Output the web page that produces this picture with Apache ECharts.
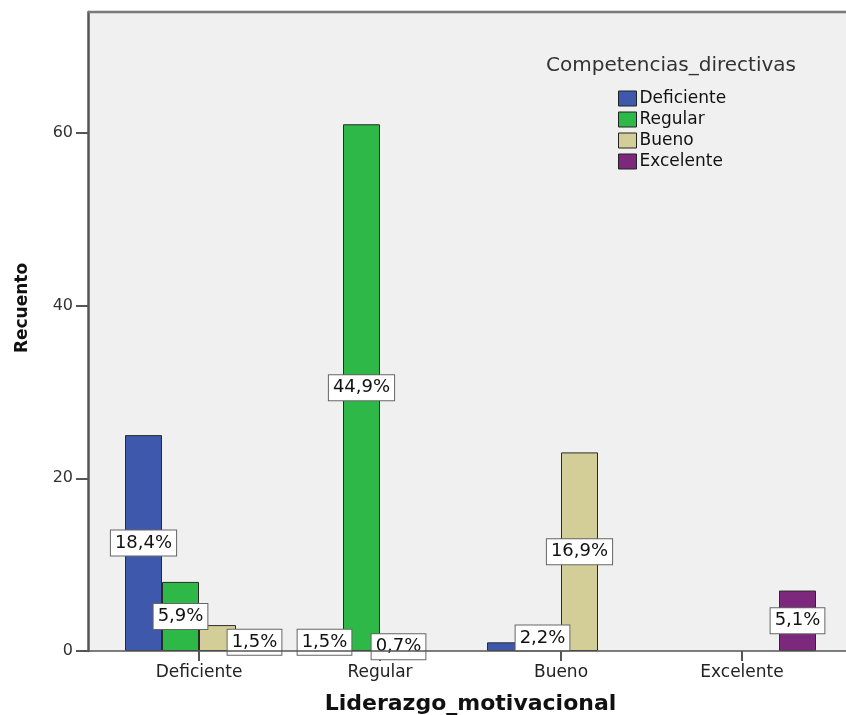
<!DOCTYPE html>
<html>
<head>
<meta charset="utf-8">
<script src="https://cdn.jsdelivr.net/npm/echarts@6/dist/echarts.min.js"></script>
<style>
  html, body { margin: 0; padding: 0; background: #ffffff; }
  #chart { width: 846px; height: 715px; }
</style>
</head>
<body>
<div id="chart"></div>
<script>
// Liderazgo_motivacional (x) by Competencias_directivas (series), counts
const categories = ['Deficiente', 'Regular', 'Bueno', 'Excelente'];
const seriesNames = ['Deficiente', 'Regular', 'Bueno', 'Excelente'];
const deficiente = [25, 2, 1, 0];
const regular = [8, 61, 3, 0];
const bueno = [3, 1, 23, 0];
const excelente = [2, 0, 0, 7];
const yTicks = [0, 20, 40, 60];
// [series index, category index] of bars whose percentage is not printed
const unlabeled = [[2, 0], [0, 2]];

const counts = [deficiente, regular, bueno, excelente];
const colors = ['#3e58ac', '#2eb848', '#d3ce97', '#7c287d'];
const total = counts.flat().reduce((a, b) => a + b, 0);

const FONT = '"DejaVu Sans", "Noto Sans", sans-serif';

function pct(v) {
  return (v / total * 100).toFixed(1).replace('.', ',') + '%';
}

const series = counts.map((vals, si) => ({
  name: seriesNames[si],
  type: 'bar',
  xAxisIndex: 0,
  yAxisIndex: 0,
  barWidth: 37,
  barGap: '0%',
  itemStyle: { color: colors[si], borderColor: '#2a2a2a', borderWidth: 1 },
  emphasis: { disabled: true },
  data: vals.map((v, ci) => {
    const hide = v === 0 || unlabeled.some(([s, c]) => s === si && c === ci);
    const item = { value: v, label: { show: !hide } };
    if (v === 0) item.itemStyle = { borderWidth: 0 };
    return item;
  }),
  label: {
    position: 'inside',
    formatter: p => pct(p.value),
    fontFamily: FONT,
    fontSize: 18,
    lineHeight: 20,
    color: '#111',
    backgroundColor: '#ffffff',
    borderColor: '#666666',
    borderWidth: 1,
    padding: [3, 4, 2, 4]
  }
}));

const chart = echarts.init(document.getElementById('chart'), null, { renderer: 'canvas' });
chart.setOption({
  animation: false,
  backgroundColor: '#ffffff',
  title: {
    text: 'Competencias_directivas',
    left: 541,
    top: 51,
    textStyle: { fontFamily: FONT, fontSize: 20, fontWeight: 'normal', color: '#333' }
  },
  legend: {
    data: seriesNames,
    orient: 'vertical',
    left: 613,
    top: 85,
    icon: 'rect',
    itemWidth: 18,
    itemHeight: 15,
    itemGap: 4,
    selectedMode: false,
    itemStyle: { borderColor: '#222', borderWidth: 1 },
    textStyle: { fontFamily: FONT, fontSize: 17, lineHeight: 15, color: '#111', padding: [0, 0, 0, -2] }
  },
  grid: [
    { left: 108.5, right: 13.5, top: 12, bottom: 64, containLabel: false, outerBoundsMode: 'none' },
    { left: 88, right: 0, top: 12, bottom: 64, show: true, backgroundColor: '#f0f0f0', borderWidth: 0, z: 0, outerBoundsMode: 'none' }
  ],
  xAxis: [
    {
      type: 'category',
      gridIndex: 0,
      data: categories,
      name: 'Liderazgo_motivacional',
      nameLocation: 'middle',
      nameGap: 42,
      nameTextStyle: { fontFamily: FONT, fontSize: 22, fontWeight: 'bold', color: '#111' },
      axisLine: { show: false },
      axisTick: { show: true, alignWithLabel: true, length: 10, lineStyle: { color: '#555', width: 2 } },
      axisLabel: { fontFamily: FONT, fontSize: 17, color: '#222', margin: 13, interval: 0 },
      splitLine: { show: false }
    },
    {
      type: 'value', gridIndex: 1, min: 0, max: 1, show: false
    }
  ],
  yAxis: [
    {
      type: 'value',
      gridIndex: 0,
      min: 0,
      max: 74,
      interval: 20,
      offset: 20.5,
      axisLine: { show: true, lineStyle: { color: '#555', width: 2.5 } },
      axisTick: { show: true, length: 12, customValues: yTicks, lineStyle: { color: '#555', width: 2 } },
      axisLabel: { fontFamily: FONT, fontSize: 16, color: '#333', margin: 15, customValues: yTicks },
      splitLine: { show: false }
    },
    {
      type: 'value', gridIndex: 1, min: 0, max: 1, show: false
    }
  ],
  graphic: [
    {
      type: 'text',
      x: 23,
      y: 308,
      rotation: Math.PI / 2,
      style: {
        text: 'Recuento',
        fontFamily: FONT,
        fontSize: 17,
        fontWeight: 'bold',
        fill: '#111',
        align: 'center',
        verticalAlign: 'middle'
      }
    },
    {
      // frame of the plot area: top border and base line
      type: 'line',
      shape: { x1: 88, y1: 12, x2: 846, y2: 12 },
      style: { stroke: '#7a7a7a', lineWidth: 2.5 },
      z: 1
    },
    {
      type: 'line',
      shape: { x1: 88, y1: 651, x2: 846, y2: 651 },
      style: { stroke: '#555', lineWidth: 1.5 },
      z: 3
    }
  ],
  series: series
});
</script>
</body>
</html>
